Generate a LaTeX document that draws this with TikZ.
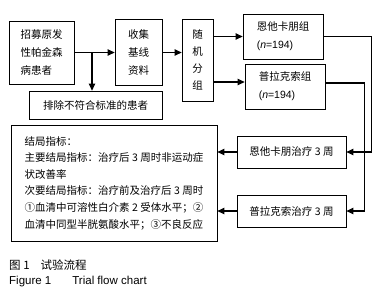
\documentclass[tikz,border=0pt]{standalone}
\usepackage{fontspec}
\setmainfont{Liberation Sans}
\newfontfamily\cjk{Noto Sans CJK SC}
\usetikzlibrary{arrows.meta,calc,positioning}

\begin{document}
\begin{tikzpicture}[
    x=1pt, y=-1pt,
    box/.style={draw, line width=0.8pt, align=center, inner sep=0pt,
                font=\cjk\fontsize{10.5}{18}\selectfont},
    arr/.style={-{Triangle[length=7pt,width=6.5pt]}, line width=1.1pt},
    >=Triangle
  ]
  \useasboundingbox[fill=white] (0,0) rectangle (385,300);
  % Recruitment
  \node[box, minimum width=65pt, minimum height=63pt, align=left] (recruit) at (41.5,52.5)
    {招募原发\\性帕金森\\病患者};
  % Baseline
  \node[box, minimum width=47pt, minimum height=66pt] (baseline) at (138.5,52.5)
    {收集\\基线\\资料};
  % Randomisation
  \node[box, minimum width=31pt, minimum height=82pt, font=\cjk\fontsize{10.5}{17}\selectfont] (rand) at (197.5,60)
    {随\\机\\分\\组};
  % Groups
  \node[box, minimum width=80pt, minimum height=45pt, align=left] (grpA) at (283,36.5)
    {恩他卡朋组\\{\rmfamily(\textit{n}=194)}};
  \node[box, minimum width=80pt, minimum height=45pt, align=left] (grpB) at (285,86.5)
    {普拉克索组\\{\rmfamily(\textit{n}=194)}};
  % Excluded
  \node[box, minimum width=133pt, minimum height=28pt] (excl) at (95.5,105)
    {排除不符合标准的患者};
  % Treatments
  \node[box, minimum width=109pt, minimum height=32pt] (treatA) at (291.5,152)
    {恩他卡朋治疗 3 周};
  \node[box, minimum width=109pt, minimum height=32pt] (treatB) at (291.5,211)
    {普拉克索治疗 3 周};
  % Outcomes
  \node[box, minimum width=206pt, minimum height=116pt, align=left,
        font=\cjk\fontsize{10.5}{16.6}\selectfont] (outcome) at (114,183)
    {结局指标：\\
     主要结局指标：治疗后 3 周时非运动症\\
     状改善率\\
     次要结局指标：治疗前及治疗后 3 周时\\
     ①血清中可溶性白介素 2 受体水平；②\\
     血清中同型半胱氨酸水平；③不良反应};

  \coordinate (split) at (92,52.5);
  \coordinate (grpBin) at ($(grpB.west)+(0,-4.5)$);
  \coordinate (grpBout) at ($(grpB.east)+(0,-3.5)$);

  \draw[arr] (recruit) -- (baseline);
  \draw[arr] (split) -- (split |- excl.north);
  \draw[arr] (baseline.east) -- (baseline.east -| rand.west);
  \draw[arr] (rand.east |- grpA.west) -- (grpA.west);
  \draw[arr] (rand.east |- grpBin) -- (grpBin);
  \draw[arr] (grpA.east) -- ++(48,0) |- (treatA.east);
  \draw[arr] (grpBout) -- ++(39,0) |- (treatB.east);
  \draw[arr] (treatA.west) -- (treatA.west -| outcome.east);
  \draw[arr] (treatB.west) -- (treatB.west -| outcome.east);

  % Caption
  \node[anchor=west, inner sep=0pt, font=\cjk\fontsize{11.5}{13}\selectfont] (capcn) at (9,265)
    {图 1\hspace{11pt}试验流程};
  \node[anchor=west, inner sep=0pt, font=\fontsize{11.5}{13}\selectfont] (capen) at (9,282)
    {Figure 1\hspace{21pt}Trial flow chart};
\end{tikzpicture}
\end{document}
